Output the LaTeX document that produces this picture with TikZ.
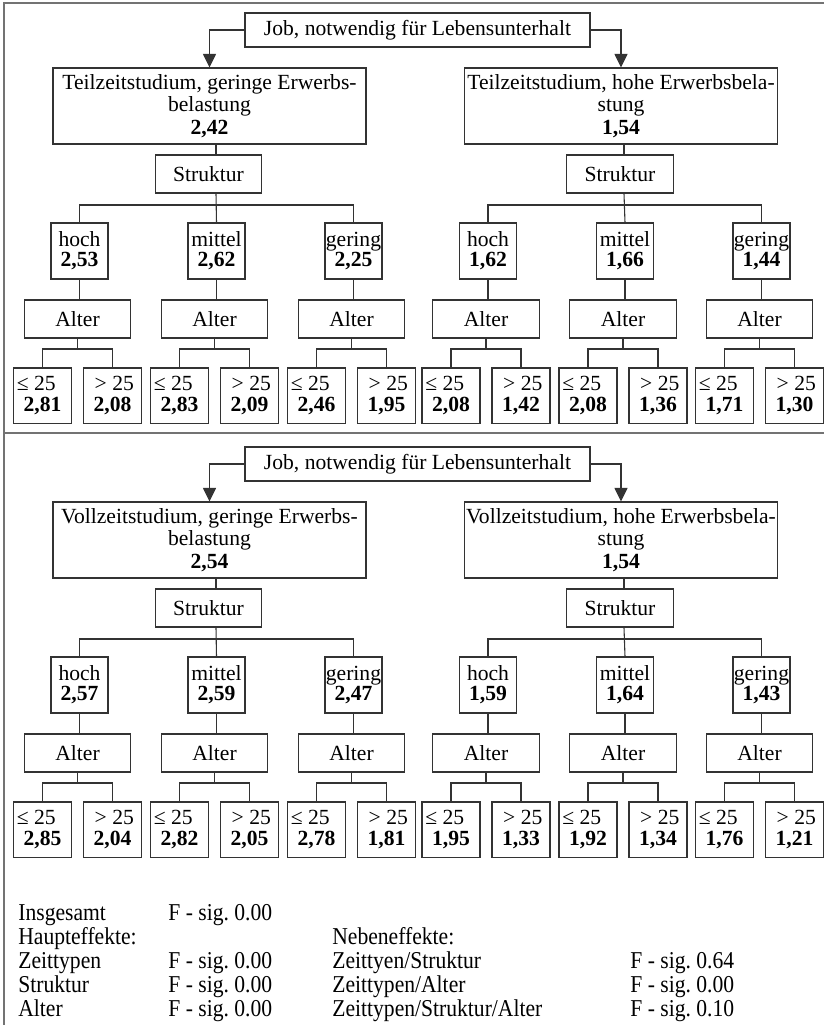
\documentclass[tikz,border=0pt]{standalone}
\usepackage{fontspec}
\setmainfont{Liberation Serif}
\usetikzlibrary{arrows.meta,positioning}
\frenchspacing

\tikzset{
  box/.style={draw=black!80, line width=0.6pt, inner sep=0.5pt, align=center, font=\fontsize{12}{12.5}\selectfont},
  jobbox/.style={box, minimum width=191.7pt, minimum height=18.9pt},
  topbox/.style={box, minimum width=173.9pt, minimum height=42.2pt},
  factorbox/.style={box, minimum width=59.4pt, minimum height=21.1pt},
  catbox/.style={box, minimum width=31.7pt, minimum height=31.1pt, font=\fontsize{12}{11.2}\selectfont},
  leafbox/.style={box, minimum width=32.2pt, minimum height=30.6pt, font=\fontsize{12}{12.2}\selectfont},
  conn/.style={draw=black!80, line width=0.6pt},
  pfeil/.style={conn, -{Triangle[length=7.5pt,width=7.2pt]}},
  rahmen/.style={draw=black!55, line width=1.1pt},
  stat/.style={anchor=base west, inner sep=0pt, font=\fontsize{12}{12.5}\selectfont}
}

% slightly stretched text of the significance table
\newcommand{\sigtxt}[1]{\scalebox{1}[1.12]{#1}}

% one branch: category box, Alter box and the two age leaves
\newcommand{\zweig}[6]{%
  \node[catbox] (#1) at (#2,251) {#3\\\textbf{#4}};
  \node[factorbox] (#1Alter) at (#2-2,319) {Alter};
  \node[leafbox] (#1Jung) at (#2-37,395.5) {≤ 25\hspace*{7pt}\\\textbf{#5}};
  \node[leafbox] (#1Alt) at (#2+33,395.5) {\hspace*{2pt}> 25\\\textbf{#6}};
  \coordinate (#1Bar) at (#2-2,349);
  \draw[conn] (#1.south) -- (#1.south |- #1Alter.north);
  \draw[conn] (#1Alter.south) -- (#1Bar);
  \draw[conn] (#1Jung.north) |- (#1Bar) -| (#1Alt.north);
}

\begin{document}
\begin{tikzpicture}[x=0.5556pt, y=-0.5556pt]
    \useasboundingbox (0,0) rectangle (824,1025);

    % frame
    \draw[rahmen] (4,1025) -- (4,3) -- (824,3);
    \draw[rahmen] (4,433) -- (824,433);

    % Teilzeitstudium
    \node[jobbox] (tJob) at (417.5,30) {Job, notwendig für Lebensunterhalt};
    \node[topbox] (tg) at (209.5,106) {Teilzeitstudium, geringe Erwerbs-\\belastung\\\textbf{2,42}};
    \node[topbox] (th) at (621,106) {Teilzeitstudium, hohe Erwerbsbela-\\stung\\\textbf{1,54}};
    \draw[pfeil] (tJob.west) -| (tg.north);
    \draw[pfeil] (tJob.east) -| (th.north);

    \node[factorbox] (tgStruktur) at (208.5,174) {Struktur};
    \node[factorbox] (thStruktur) at (620,174) {Struktur};

    \zweig{tgHoch}{79.5}{hoch}{2,53}{2,81}{2,08}
    \zweig{tgMittel}{216.5}{mittel}{2,62}{2,83}{2,09}
    \zweig{tgGering}{353.5}{gering}{2,25}{2,46}{1,95}
    \zweig{thHoch}{488}{hoch}{1,62}{2,08}{1,42}
    \zweig{thMittel}{625}{mittel}{1,66}{2,08}{1,36}
    \zweig{thGering}{761.5}{gering}{1,44}{1,71}{1,30}

    \coordinate (tgBar) at (216,205);
    \coordinate (thBar) at (624,205);
    \draw[conn] (tg.south -| tgBar) -- (tgStruktur.north -| tgBar);
    \draw[conn] (tgStruktur.south -| tgBar) -- (tgMittel.north);
    \draw[conn] (tgHoch.north) |- (tgBar) -| (tgGering.north);
    \draw[conn] (th.south -| thBar) -- (thStruktur.north -| thBar);
    \draw[conn] (thStruktur.south -| thBar) -- (thMittel.north);
    \draw[conn] (thHoch.north) |- (thBar) -| (thGering.north);

    % Vollzeitstudium
    \begin{scope}[shift={(0,434)}]
    \node[jobbox] (vJob) at (417.5,30) {Job, notwendig für Lebensunterhalt};
    \node[topbox] (vg) at (209.5,106) {Vollzeitstudium, geringe Erwerbs-\\belastung\\\textbf{2,54}};
    \node[topbox] (vh) at (621,106) {Vollzeitstudium, hohe Erwerbsbela-\\stung\\\textbf{1,54}};
    \draw[pfeil] (vJob.west) -| (vg.north);
    \draw[pfeil] (vJob.east) -| (vh.north);

    \node[factorbox] (vgStruktur) at (208.5,174) {Struktur};
    \node[factorbox] (vhStruktur) at (620,174) {Struktur};

    \zweig{vgHoch}{79.5}{hoch}{2,57}{2,85}{2,04}
    \zweig{vgMittel}{216.5}{mittel}{2,59}{2,82}{2,05}
    \zweig{vgGering}{353.5}{gering}{2,47}{2,78}{1,81}
    \zweig{vhHoch}{488}{hoch}{1,59}{1,95}{1,33}
    \zweig{vhMittel}{625}{mittel}{1,64}{1,92}{1,34}
    \zweig{vhGering}{761.5}{gering}{1,43}{1,76}{1,21}

    \coordinate (vgBar) at (216,205);
    \coordinate (vhBar) at (624,205);
    \draw[conn] (vg.south -| vgBar) -- (vgStruktur.north -| vgBar);
    \draw[conn] (vgStruktur.south -| vgBar) -- (vgMittel.north);
    \draw[conn] (vgHoch.north) |- (vgBar) -| (vgGering.north);
    \draw[conn] (vh.south -| vhBar) -- (vhStruktur.north -| vhBar);
    \draw[conn] (vhStruktur.south -| vhBar) -- (vhMittel.north);
    \draw[conn] (vhHoch.north) |- (vhBar) -| (vhGering.north);
    \end{scope}

    % significance values
    \node[stat] (insg) at (18,920) {\sigtxt{Insgesamt}};
    \node[stat] (insgF) at (168,920) {\sigtxt{F - sig. 0.00}};
    \node[stat] (haupt) at (18,944) {\sigtxt{Haupteffekte:}};
    \node[stat] (neben) at (332,944) {\sigtxt{Nebeneffekte:}};
    \node[stat] (zeit) at (18,968) {\sigtxt{Zeittypen}};
    \node[stat] (zeitF) at (168,968) {\sigtxt{F - sig. 0.00}};
    \node[stat] (zs) at (332,968) {\sigtxt{Zeittyen/Struktur}};
    \node[stat] (zsF) at (630,968) {\sigtxt{F - sig. 0.64}};
    \node[stat] (strk) at (18,992) {\sigtxt{Struktur}};
    \node[stat] (strkF) at (168,992) {\sigtxt{F - sig. 0.00}};
    \node[stat] (za) at (332,992) {\sigtxt{Zeittypen/Alter}};
    \node[stat] (zaF) at (630,992) {\sigtxt{F - sig. 0.00}};
    \node[stat] (alt) at (18,1016) {\sigtxt{Alter}};
    \node[stat] (altF) at (168,1016) {\sigtxt{F - sig. 0.00}};
    \node[stat] (zsa) at (332,1016) {\sigtxt{Zeittypen/Struktur/Alter}};
    \node[stat] (zsaF) at (630,1016) {\sigtxt{F - sig. 0.10}};
\end{tikzpicture}
\end{document}
